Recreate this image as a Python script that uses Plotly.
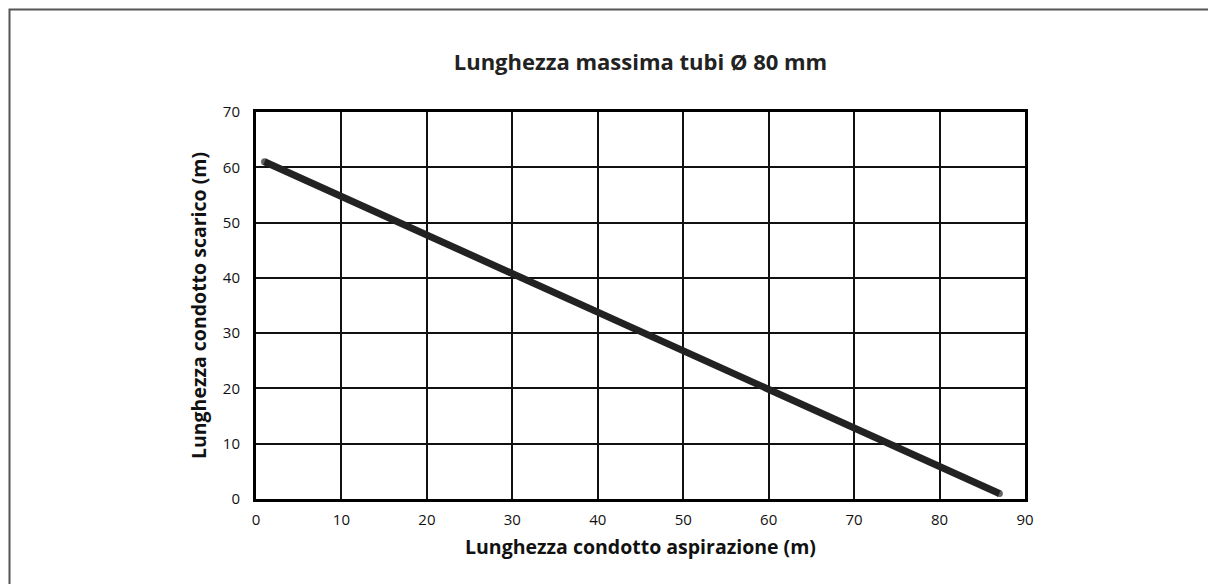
import plotly.graph_objects as go

# Data
aspirazione = [1, 10, 20, 30, 40, 50, 60, 70, 80, 87]
scarico = [61, 54.7, 47.7, 40.8, 33.8, 26.9, 19.9, 13.0, 6.0, 1]

x_ticks = [0, 10, 20, 30, 40, 50, 60, 70, 80, 90]
y_ticks = [0, 10, 20, 30, 40, 50, 60, 70]

title = "Lunghezza massima tubi Ø 80 mm"
x_title = "Lunghezza condotto aspirazione (m)"
y_title = "Lunghezza condotto scarico (m)"

W, H = 1208, 584
L, R, T, B = 256, 183, 112, 85
pw, ph = W - L - R, H - T - B

def px_x(p):
    return (p - L) / pw

def px_y(p):
    return (H - B - p) / ph

fig = go.Figure()
sizes = [7] + [0] * (len(aspirazione) - 2) + [7]
fig.add_trace(go.Scatter(
    x=aspirazione, y=scarico, mode="lines+markers",
    line=dict(color="#222222", width=7),
    marker=dict(size=sizes, color="#222222", line=dict(width=0)),
    showlegend=False, hoverinfo="x+y",
))

fig.update_layout(
    width=W, height=H,
    margin=dict(l=L, r=R, t=T, b=B),
    paper_bgcolor="white", plot_bgcolor="white",
    font=dict(family="Open Sans, Noto Sans, sans-serif", color="#111111", size=15),
    title=dict(text="<b>" + title + "</b>", x=0.5, xanchor="center", xref="paper",
               y=1 - 62 / H, yanchor="middle", yref="container",
               font=dict(size=22, color="#222222")),
    xaxis=dict(range=[0, 90], tickvals=x_ticks, ticktext=[str(v) for v in x_ticks],
               showgrid=True, gridcolor="#111111", gridwidth=2,
               showline=True, linecolor="#000000", linewidth=3, mirror=True,
               zeroline=False, ticks="", ticklabelstandoff=5,
               title=dict(text="<b>" + x_title + "</b>", font=dict(size=19.5), standoff=13)),
    yaxis=dict(range=[0, 70], tickvals=y_ticks, ticktext=[str(v) for v in y_ticks],
               showgrid=True, gridcolor="#111111", gridwidth=2,
               showline=True, linecolor="#000000", linewidth=3, mirror=True,
               zeroline=False, ticks="", ticklabelstandoff=10,
               title=dict(text="<b>" + y_title + "</b>", font=dict(size=19.5), standoff=12)),
    shapes=[dict(type="rect", xref="paper", yref="paper",
                 x0=px_x(9.5), x1=px_x(1215), y0=px_y(590), y1=px_y(9.5),
                 line=dict(color="#555555", width=2), fillcolor="rgba(0,0,0,0)",
                 layer="below")],
)

fig.write_html("out.html", config={"displayModeBar": False},
               post_script="document.body.style.margin='0';document.body.style.overflow='hidden';")
